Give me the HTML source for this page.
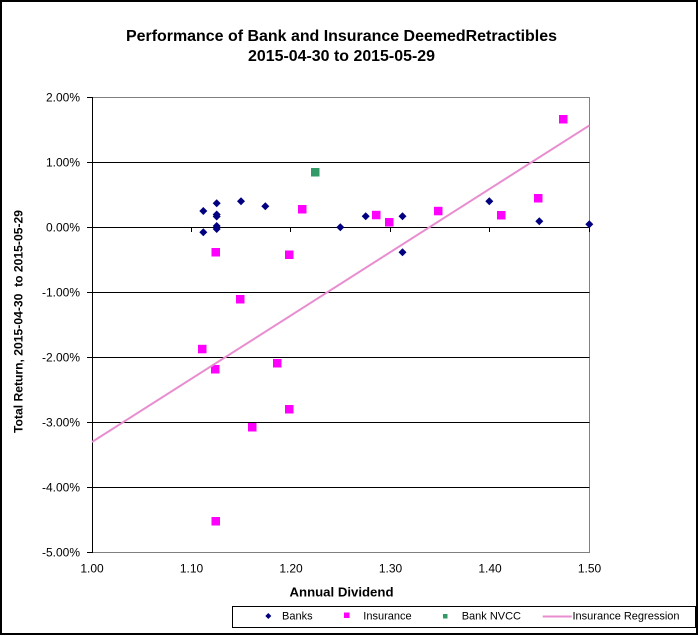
<!DOCTYPE html>
<html><head><meta charset="utf-8"><style>
html,body{margin:0;padding:0;background:#fff;}
svg{display:block;font-family:"Liberation Sans",Arial,sans-serif;}
</style></head><body>
<svg width="698" height="636" viewBox="0 0 698 636" xmlns="http://www.w3.org/2000/svg">
<rect x="0" y="0" width="698" height="636" fill="#fff"/>
<rect x="1" y="1" width="696" height="633" fill="none" stroke="#000" stroke-width="2"/>
<!-- title -->
<text x="341.5" y="41" font-size="16" font-weight="bold" text-anchor="middle" textLength="431" lengthAdjust="spacingAndGlyphs">Performance of Bank and Insurance DeemedRetractibles</text>
<text x="341.5" y="61" font-size="16" font-weight="bold" text-anchor="middle" textLength="187" lengthAdjust="spacingAndGlyphs">2015-04-30 to 2015-05-29</text>
<!-- plot border -->
<polyline points="92,97.5 589.5,97.5 589.5,552.5 92,552.5" fill="none" stroke="#808080" stroke-width="1"/>
<!-- gridlines -->
<g stroke="#000" stroke-width="1">
<line x1="92" y1="162.5" x2="589.5" y2="162.5"/>
<line x1="92" y1="292.5" x2="589.5" y2="292.5"/>
<line x1="92" y1="357.5" x2="589.5" y2="357.5"/>
<line x1="92" y1="422.5" x2="589.5" y2="422.5"/>
<line x1="92" y1="487.5" x2="589.5" y2="487.5"/>
<!-- x axis at 0 -->
<line x1="92" y1="227.5" x2="589.5" y2="227.5"/>
<!-- y axis -->
<line x1="92.5" y1="97" x2="92.5" y2="553"/>
<!-- y ticks -->
<line x1="87" y1="97.5" x2="92" y2="97.5"/>
<line x1="87" y1="162.5" x2="92" y2="162.5"/>
<line x1="87" y1="227.5" x2="92" y2="227.5"/>
<line x1="87" y1="292.5" x2="92" y2="292.5"/>
<line x1="87" y1="357.5" x2="92" y2="357.5"/>
<line x1="87" y1="422.5" x2="92" y2="422.5"/>
<line x1="87" y1="487.5" x2="92" y2="487.5"/>
<line x1="87" y1="552.5" x2="92" y2="552.5"/>
<!-- x ticks -->
<line x1="92.5" y1="227" x2="92.5" y2="232"/>
<line x1="191.5" y1="227" x2="191.5" y2="232"/>
<line x1="290.5" y1="227" x2="290.5" y2="232"/>
<line x1="390.5" y1="227" x2="390.5" y2="232"/>
<line x1="489.5" y1="227" x2="489.5" y2="232"/>
<line x1="589.5" y1="227" x2="589.5" y2="232"/>
</g>
<!-- y labels -->
<g font-size="12" text-anchor="end" fill="#000">
<text x="80" y="101.5">2.00%</text>
<text x="80" y="166.5">1.00%</text>
<text x="80" y="231.5">0.00%</text>
<text x="80" y="296.5">-1.00%</text>
<text x="80" y="361.5">-2.00%</text>
<text x="80" y="426.5">-3.00%</text>
<text x="80" y="491.5">-4.00%</text>
<text x="80" y="556.5">-5.00%</text>
</g>
<!-- x labels -->
<g font-size="12" text-anchor="middle" fill="#000">
<text x="92" y="572.7">1.00</text>
<text x="191.5" y="572.7">1.10</text>
<text x="291" y="572.7">1.20</text>
<text x="390.5" y="572.7">1.30</text>
<text x="490" y="572.7">1.40</text>
<text x="589.5" y="572.7">1.50</text>
</g>
<!-- axis titles -->
<text x="341.5" y="596.7" font-size="13" font-weight="bold" text-anchor="middle" textLength="104" lengthAdjust="spacingAndGlyphs">Annual Dividend</text>
<text transform="translate(22.5,321.5) rotate(-90)" font-size="12" font-weight="bold" text-anchor="middle" textLength="223" lengthAdjust="spacingAndGlyphs" xml:space="preserve">Total Return, 2015-04-30  to 2015-05-29</text>
<!-- Banks diamonds -->
<g fill="#000080">
<path d="M203.3,207 l4,4 l-4,4 l-4,-4z"/>
<path d="M203.3,228.3 l4,4 l-4,4 l-4,-4z"/>
<path d="M216.7,199.3 l4,4 l-4,4 l-4,-4z"/>
<path d="M216.7,210.5 l4,4 l-4,4 l-4,-4z"/>
<path d="M216.7,212.5 l4,4 l-4,4 l-4,-4z"/>
<path d="M216.7,222 l4,4 l-4,4 l-4,-4z"/>
<path d="M216.7,225 l4,4 l-4,4 l-4,-4z"/>
<path d="M241,197.3 l4,4 l-4,4 l-4,-4z"/>
<path d="M265.3,202.3 l4,4 l-4,4 l-4,-4z"/>
<path d="M340.3,223.3 l4,4 l-4,4 l-4,-4z"/>
<path d="M365.7,212.3 l4,4 l-4,4 l-4,-4z"/>
<path d="M402.5,212.3 l4,4 l-4,4 l-4,-4z"/>
<path d="M402.5,248.3 l4,4 l-4,4 l-4,-4z"/>
<path d="M489.3,197.3 l4,4 l-4,4 l-4,-4z"/>
<path d="M539.3,217.3 l4,4 l-4,4 l-4,-4z"/>
<path d="M589.3,220.3 l4,4 l-4,4 l-4,-4z"/>
</g>
<!-- Insurance squares -->
<g fill="#ff00ff">
<rect x="211.5" y="248" width="8.5" height="8.5"/>
<rect x="285" y="250.5" width="8.5" height="8.5"/>
<rect x="298" y="205" width="8.5" height="8.5"/>
<rect x="372" y="210.8" width="8.5" height="8.5"/>
<rect x="385" y="218" width="8.5" height="8.5"/>
<rect x="434" y="206.8" width="8.5" height="8.5"/>
<rect x="497" y="211" width="8.5" height="8.5"/>
<rect x="534" y="194" width="8.5" height="8.5"/>
<rect x="559" y="115" width="8.5" height="8.5"/>
<rect x="236" y="295" width="8.5" height="8.5"/>
<rect x="198" y="344.8" width="8.5" height="8.5"/>
<rect x="211" y="365" width="8.5" height="8.5"/>
<rect x="273" y="359" width="8.5" height="8.5"/>
<rect x="285" y="405" width="8.5" height="8.5"/>
<rect x="248" y="423" width="8.5" height="8.5"/>
<rect x="211.5" y="517" width="8.5" height="8.5"/>
</g>
<!-- Bank NVCC -->
<rect x="311" y="168" width="8.5" height="8.5" fill="#339966"/>
<!-- regression -->
<line x1="92" y1="442" x2="589.3" y2="125.5" stroke="#e88ed0" stroke-width="2"/>
<!-- legend -->
<rect x="232.5" y="606.5" width="463" height="21" fill="#fff" stroke="#000" stroke-width="1"/>
<path d="M268.3,613 l3,3 l-3,3 l-3,-3z" fill="#000080"/>
<text x="282" y="619.5" font-size="11">Banks</text>
<rect x="344" y="612.5" width="5.5" height="5.5" fill="#ff00ff"/>
<text x="363.3" y="619.5" font-size="11">Insurance</text>
<rect x="443" y="614" width="4.5" height="4.5" fill="#339966"/>
<text x="461.7" y="619.5" font-size="11">Bank NVCC</text>
<line x1="542.7" y1="616.5" x2="571.7" y2="616.5" stroke="#e88ed0" stroke-width="2"/>
<text x="572.5" y="619.5" font-size="11">Insurance Regression</text>
</svg>
</body></html>
